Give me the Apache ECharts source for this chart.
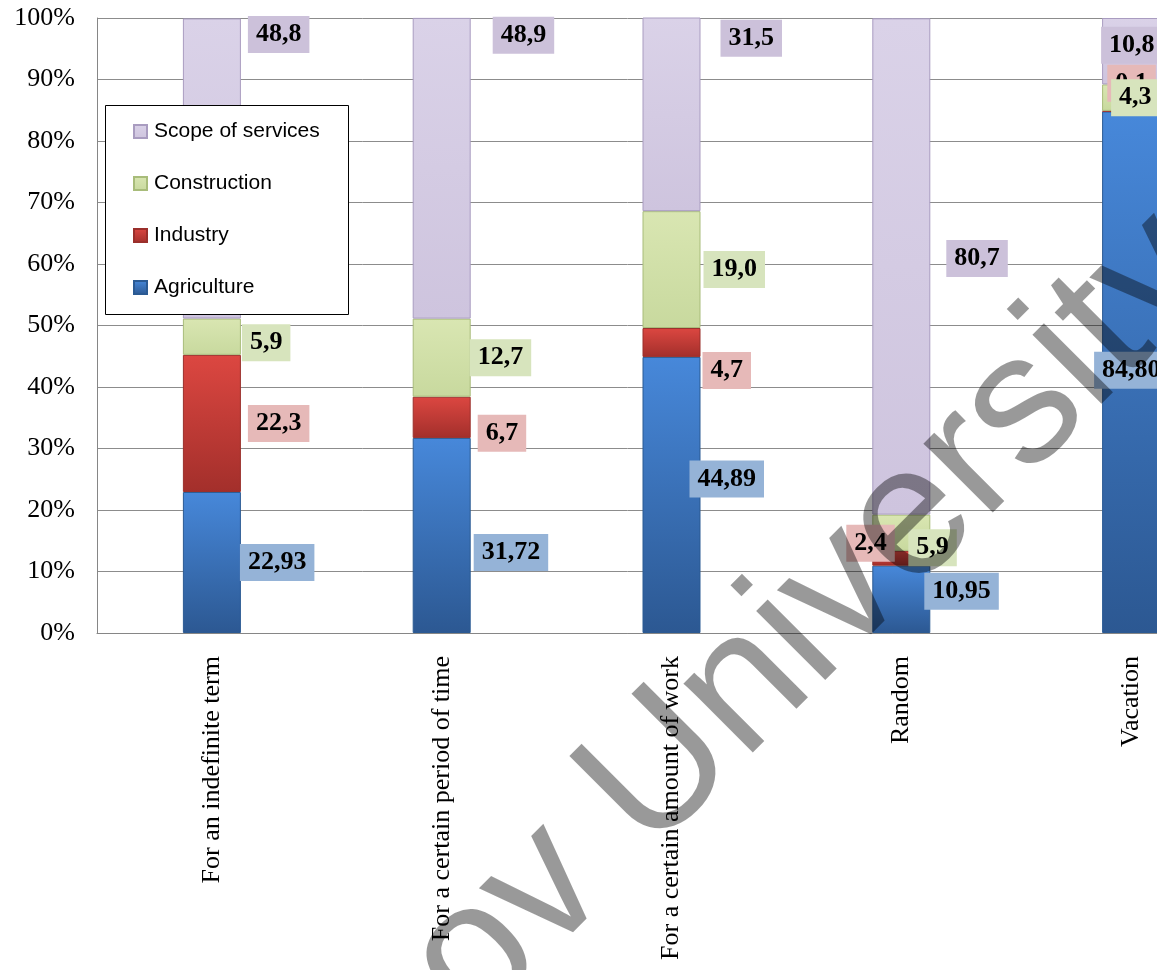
<!DOCTYPE html>
<html><head><meta charset="utf-8">
<script src="https://cdn.jsdelivr.net/npm/echarts@6/dist/echarts.min.js"></script>
<style>html,body{margin:0;padding:0;background:#fff;} #chart{width:1157px;height:970px;}</style>
</head><body><div id="chart"></div>
<script>
// ---- data ----
const categories = ['For an indefinite term', 'For a certain period of time', 'For a certain amount of work', 'Random', 'Vacation'];
const agriculture = [22.93, 31.72, 44.89, 10.95, 84.80];
const industry = [22.3, 6.7, 4.7, 2.4, 0.1];
const construction = [5.9, 12.7, 19.0, 5.9, 4.3];
const services = [48.8, 48.9, 31.5, 80.7, 10.8];
const legendOrder = ['Scope of services', 'Construction', 'Industry', 'Agriculture'];

// ---- label placement tweaks (pixel nudges from default 'right' position) ----
const nudges = {
  Agriculture: [[-1, 0], [3, 17], [-11, -16], [-6, -8], [-66, -2]],
  Industry: [[7, 0], [7, 16], [2, 28], [-84, -15], [-53, -28]],
  Construction: [[1, 6], [-1, 0], [3, 0], [-22, 15], [-49, 0]],
  'Scope of services': [[7, -134], [22, -133], [20, -76], [16, -8], [-59, -6]]
};

const chart = echarts.init(document.getElementById('chart'), null, {renderer: 'canvas'});

function grad(top, bottom) {
  return new echarts.graphic.LinearGradient(0, 0, 0, 1, [
    {offset: 0, color: top}, {offset: 1, color: bottom}
  ]);
}

function makeSeries(name, values, decimals, top, bottom, border, labelBg) {
  return {
    name: name,
    type: 'bar',
    stack: 'total',
    barWidth: 58,
    itemStyle: {color: grad(top, bottom), borderColor: border, borderWidth: 1},
    label: {
      show: true,
      position: 'right',
      distance: 0,
      formatter: p => Number(p.value).toFixed(decimals).replace('.', ','),
      fontFamily: '"Liberation Serif", "Times New Roman", serif',
      fontWeight: 'bold',
      fontSize: 26,
      lineHeight: 26,
      color: '#000',
      backgroundColor: labelBg,
      padding: [6, 8, 5, 8]
    },
    emphasis: {disabled: true},
    data: values.map((v, i) => ({value: v, label: {offset: nudges[name][i]}}))
  };
}

const option = {
  animation: false,
  backgroundColor: '#fff',
  grid: {left: 97, top: 18, width: 1149, height: 615, containLabel: false, outerBoundsMode: 'none'},
  xAxis: {
    type: 'category',
    data: categories,
    axisLine: {lineStyle: {color: '#868686', width: 1}},
    axisTick: {show: false},
    axisLabel: {
      interval: 0, rotate: 90, margin: 23, color: '#000',
      fontFamily: '"Liberation Serif", "Times New Roman", serif', fontSize: 26
    }
  },
  yAxis: {
    type: 'value', min: 0, max: 100, interval: 10,
    axisLine: {show: true, lineStyle: {color: '#868686', width: 1}},
    axisTick: {show: false},
    splitLine: {lineStyle: {color: '#8c8c8c', width: 1}},
    axisLabel: {
      formatter: '{value}%', margin: 22, color: '#000',
      fontFamily: '"Liberation Serif", "Times New Roman", serif', fontSize: 26
    }
  },
  legend: {
    orient: 'vertical', left: 133, top: 121, padding: 0,
    itemWidth: 13, itemHeight: 13, itemGap: 31, icon: 'rect',
    selectedMode: false, z: 20,
    data: legendOrder,
    textStyle: {fontFamily: '"Liberation Sans", Arial, sans-serif', fontSize: 21, lineHeight: 21, color: '#000', padding: [0, 0, 0, 2]}
  },
  graphic: [
    {type: 'rect', shape: {x: 105.5, y: 105.5, width: 243, height: 209}, style: {fill: '#fff', stroke: '#000', lineWidth: 1}, z: 15, silent: true},
    {type: 'text', x: 813, y: 620, rotation: 45 * Math.PI / 180, silent: true, z: 100,
      style: {text: 'ov University', font: '185px "Liberation Sans", Arial, sans-serif', fill: 'rgba(0,0,0,0.4)',
        align: 'center', verticalAlign: 'middle', textAlign: 'center', textVerticalAlign: 'middle'}}
  ],
  series: [
    makeSeries('Agriculture', agriculture, 2, '#4788DA', '#2C5892', '#2B5A93', '#95B3D7'),
    makeSeries('Industry', industry, 1, '#DC4741', '#A32F2B', '#9A2F2B', '#E6B9B8'),
    makeSeries('Construction', construction, 1, '#D9E6B2', '#C8D99E', '#A8BC7A', '#D7E4BD'),
    makeSeries('Scope of services', services, 1, '#DAD2E8', '#CEC4DE', '#A99CC0', '#CCC1DA')
  ]
};
chart.setOption(option);
</script>
</body></html>
